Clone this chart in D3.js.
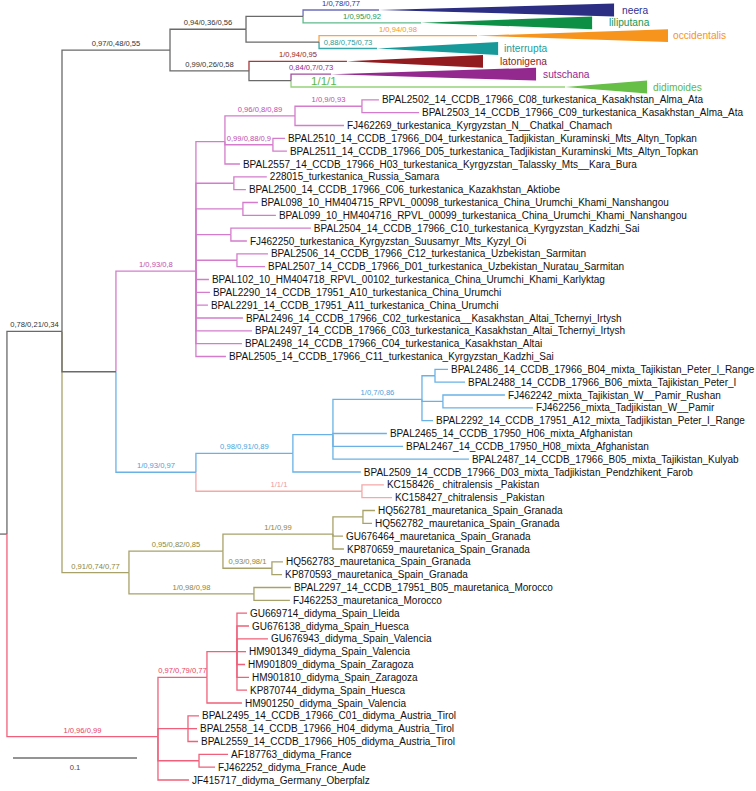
<!DOCTYPE html>
<html><head><meta charset="utf-8">
<script src="https://cdn.jsdelivr.net/npm/d3@7"></script>
<style>
body{margin:0;background:#fff}
svg{display:block}
text{font-family:"Liberation Sans",Arial,Helvetica,sans-serif}
</style>
</head><body>
<svg id="chart" width="756" height="791"></svg>
<script>
// ---------- DATA ----------
// [node, parent, branch length (subst./site), support PP/ML/MP]
const rootEdge = [["root", null, 0.0056, ""]];
const upperEdges = [
  ["A", "root", 0.0444, "0,78/0,21/0,34"],
  ["B", "A", 0.0871, "0,97/0,48/0,55"],
  ["B1", "B", 0.0613, "0,94/0,36/0,56"],
  ["B11", "B1", 0.0460, ""],
  ["neera", "B11", 0.0613, "1/0,78/0,77"],
  ["liliputana", "B11", 0.0952, "1/0,95/0,92"],
  ["B12", "B1", 0.0589, ""],
  ["occidentalis", "B12", 0.1274, "1/0,94/0,98"],
  ["interrupta", "B12", 0.0468, "0,88/0,75/0,73"],
  ["B2", "B", 0.0637, "0,99/0,26/0,58"],
  ["latonigena", "B2", 0.0790, "1/0,94/0,95"],
  ["B21", "B2", 0.0339, ""],
  ["sutschana", "B21", 0.0323, "0,84/0,7/0,73"],
  ["didimoides", "B21", 0.2210, "1/1/1"]
];
const turkestanicaEdges = [
  ["C", "A", 0.0435, ""],
  ["T", "C", 0.0645, "1/0,93/0,8"],
  ["Ta", "T", 0.0234, ""],
  ["Tb", "Ta", 0.0565, "0,96/0,8/0,89"],
  ["Td", "Tb", 0.0540, "1/0,9/0,93"],
  ["BPAL2502_14_CCDB_17966_C08_turkestanica_Kasakhstan_Alma_Ata", "Td", 0.0137, ""],
  ["BPAL2503_14_CCDB_17966_C09_turkestanica_Kasakhstan_Alma_Ata", "Td", 0.0460, ""],
  ["FJ462269_turkestanica_Kyrgyzstan_N__Chatkal_Chamach", "Tb", 0.0395, ""],
  ["Tc", "Ta", 0.0387, "0,99/0,88/0,9"],
  ["BPAL2510_14_CCDB_17966_D04_turkestanica_Tadjikistan_Kuraminski_Mts_Altyn_Topkan", "Tc", 0.0097, ""],
  ["BPAL2511_14_CCDB_17966_D05_turkestanica_Tadjikistan_Kuraminski_Mts_Altyn_Topkan", "Tc", 0.0113, ""],
  ["BPAL2557_14_CCDB_17966_H03_turkestanica_Kyrgyzstan_Talassky_Mts__Kara_Bura", "Ta", 0.0121, ""],
  ["Te", "T", 0.0306, ""],
  ["228015_turkestanica_Russia_Samara", "Te", 0.0266, ""],
  ["BPAL2500_14_CCDB_17966_C06_turkestanica_Kazakhstan_Aktiobe", "Te", 0.0097, ""],
  ["Tf", "T", 0.0379, ""],
  ["BPAL098_10_HM404715_RPVL_00098_turkestanica_China_Urumchi_Khami_Nanshangou", "Tf", 0.0121, ""],
  ["BPAL099_10_HM404716_RPVL_00099_turkestanica_China_Urumchi_Khami_Nanshangou", "Tf", 0.0266, ""],
  ["Tg", "T", 0.0282, ""],
  ["BPAL2504_14_CCDB_17966_C10_turkestanica_Kyrgyzstan_Kadzhi_Sai", "Tg", 0.0645, ""],
  ["FJ462250_turkestanica_Kyrgyzstan_Suusamyr_Mts_Kyzyl_Oi", "Tg", 0.0129, ""],
  ["Th", "T", 0.0331, ""],
  ["BPAL2506_14_CCDB_17966_C12_turkestanica_Uzbekistan_Sarmitan", "Th", 0.0250, ""],
  ["BPAL2507_14_CCDB_17966_D01_turkestanica_Uzbekistan_Nuratau_Sarmitan", "Th", 0.0226, ""],
  ["BPAL102_10_HM404718_RPVL_00102_turkestanica_China_Urumchi_Khami_Karlyktag", "T", 0.0105, ""],
  ["BPAL2290_14_CCDB_17951_A10_turkestanica_China_Urumchi", "T", 0.0113, ""],
  ["BPAL2291_14_CCDB_17951_A11_turkestanica_China_Urumchi", "T", 0.0097, ""],
  ["BPAL2496_14_CCDB_17966_C02_turkestanica__Kasakhstan_Altai_Tchernyi_Irtysh", "T", 0.0379, ""],
  ["BPAL2497_14_CCDB_17966_C03_turkestanica_Kasakhstan_Altai_Tchernyi_Irtysh", "T", 0.0452, ""],
  ["BPAL2498_14_CCDB_17966_C04_turkestanica_Kasakhstan_Altai", "T", 0.0371, ""],
  ["BPAL2505_14_CCDB_17966_C11_turkestanica_Kyrgyzstan_Kadzhi_Sai", "T", 0.0242, ""]
];
const mixtaEdges = [
  ["M", "C", 0.0645, "1/0,93/0,97"],
  ["MX", "M", 0.0782, "0,98/0,91/0,89"],
  ["MX2", "MX", 0.0323, ""],
  ["MX1", "MX2", 0.0718, "1/0,7/0,86"],
  ["Ma", "MX1", 0.0105, ""],
  ["BPAL2486_14_CCDB_17966_B04_mixta_Tajikistan_Peter_I_Range", "Ma", 0.0105, ""],
  ["BPAL2488_14_CCDB_17966_B06_mixta_Tajikistan_Peter_I", "Ma", 0.0242, ""],
  ["Mb", "MX1", 0.0169, ""],
  ["FJ462242_mixta_Tajikistan_W__Pamir_Rushan", "Mb", 0.0500, ""],
  ["FJ462256_mixta_Tadjikistan_W__Pamir", "Mb", 0.0726, ""],
  ["BPAL2292_14_CCDB_17951_A12_mixta_Tadjikistan_Peter_I_Range", "MX1", 0.0089, ""],
  ["BPAL2465_14_CCDB_17950_H06_mixta_Afghanistan", "MX2", 0.0435, ""],
  ["BPAL2467_14_CCDB_17950_H08_mixta_Afghanistan", "MX2", 0.0565, ""],
  ["BPAL2487_14_CCDB_17966_B05_mixta_Tajikistan_Kulyab", "MX2", 0.1097, ""],
  ["BPAL2509_14_CCDB_17966_D03_mixta_Tadjikistan_Pendzhikent_Farob", "MX", 0.0548, ""],
  ["CH", "M", 0.1339, "1/1/1"],
  ["KC158426_ chitralensis _Pakistan", "CH", 0.0177, ""],
  ["KC158427_chitralensis _Pakistan", "CH", 0.0242, ""]
];
const mauretanicaEdges = [
  ["D", "A", 0.0540, "0,91/0,74/0,77"],
  ["D1", "D", 0.0758, "0,95/0,82/0,85"],
  ["D11", "D1", 0.0887, "1/1/0,99"],
  ["D111", "D11", 0.0242, ""],
  ["HQ562781_mauretanica_Spain_Granada", "D111", 0.0097, ""],
  ["HQ562782_mauretanica_Spain_Granada", "D111", 0.0073, ""],
  ["GU676464_mauretanica_Spain_Granada", "D11", 0.0081, ""],
  ["KP870659_mauretanica_Spain_Granada", "D11", 0.0089, ""],
  ["D12", "D1", 0.0395, "0,93/0,98/1"],
  ["HQ562783_mauretanica_Spain_Granada", "D12", 0.0089, ""],
  ["KP870593_mauretanica_Spain_Granada", "D12", 0.0081, ""],
  ["D2", "D", 0.1008, "1/0,98/0,98"],
  ["BPAL2297_14_CCDB_17951_B05_mauretanica_Morocco", "D2", 0.0298, ""],
  ["FJ462253_mauretanica_Morocco", "D2", 0.0290, ""]
];
const didymaEdges = [
  ["DY", "root", 0.1218, "1/0,96/0,99"],
  ["DY1", "DY", 0.0395, "0,97/0,79/0,77"],
  ["DY1a", "DY1", 0.0242, ""],
  ["GU669714_didyma_Spain_Lleida", "DY1a", 0.0081, ""],
  ["GU676138_didyma_Spain_Huesca", "DY1a", 0.0097, ""],
  ["GU676943_didyma_Spain_Valencia", "DY1a", 0.0250, ""],
  ["HM901349_didyma_Spain_Valencia", "DY1a", 0.0073, ""],
  ["HM901809_didyma_Spain_Zaragoza", "DY1a", 0.0065, ""],
  ["HM901810_didyma_Spain_Zaragoza", "DY1a", 0.0097, ""],
  ["KP870744_didyma_Spain_Huesca", "DY1a", 0.0081, ""],
  ["HM901250_didyma_Spain_Valencia", "DY1", 0.0282, ""],
  ["DY2", "DY", 0.0242, ""],
  ["BPAL2495_14_CCDB_17966_C01_didyma_Austria_Tirol", "DY2", 0.0089, ""],
  ["BPAL2558_14_CCDB_17966_H04_didyma_Austria_Tirol", "DY2", 0.0073, ""],
  ["BPAL2559_14_CCDB_17966_H05_didyma_Austria_Tirol", "DY2", 0.0081, ""],
  ["DY3", "DY", 0.0331, ""],
  ["AF187763_didyma_France", "DY3", 0.0234, ""],
  ["FJ462252_didyma_France_Aude", "DY3", 0.0129, ""],
  ["JF415717_didyma_Germany_Oberpfalz", "DY", 0.0250, ""]
];
// collapsed clades: extra depth from clade root to deepest tip
const collapsedClades = ["neera", "liliputana", "occidentalis", "interrupta", "latonigena", "sutschana", "didimoides"];
const collapsedDepths = [0.1895, 0.1379, 0.1540, 0.0976, 0.1097, 0.1653, 0.0661];
const scaleBarValue = 0.1;
const scaleBarLabel = "0.1";

// ---------- STYLE ----------
const groupOf = { root: "grey", DY: "didyma", D: "maur", T: "turk", M: "mixta", CH: "chitr",
  neera: "neera", liliputana: "lili", occidentalis: "occ", interrupta: "inter",
  latonigena: "laton", sutschana: "suts", didimoides: "didi" };
const lineCol = { grey: "#6a6a6a", didyma: "#f0607a", maur: "#a8a26a", turk: "#d47ccb", mixta: "#6ab2e6",
  chitr: "#f5a8a8", neera: "#6d6fba", lili: "#5fb98a", occ: "#f7a54a", inter: "#3aa8a6",
  laton: "#a8383b", suts: "#a24c9e", didi: "#94d27c" };
const textCol = { grey: "#333333", didyma: "#e8415f", maur: "#8c8638", turk: "#bd4dad", mixta: "#48a2dd",
  chitr: "#f09a9a", neera: "#2e3192", lili: "#1a9650", occ: "#f7941d", inter: "#1c9c9a",
  laton: "#951c20", suts: "#93288e", didi: "#5db845" };
const fillCol = { neera: "#2b2e83", lili: "#0d8f45", occ: "#f7941d", inter: "#17999a",
  laton: "#921b1f", suts: "#93288e", didi: "#67bf47" };
const cladeLabelGap = { neera: 8, liliputana: 17, occidentalis: 5, interrupta: 6, latonigena: 17, sutschana: 7, didimoides: 6 };
// where along its branch a support label sits (default: middle)
const supportAnchor = { didimoides: 0.12 };
const supportSize = { didimoides: 11.5 };

// ---------- BUILD ----------
const rows = [...rootEdge, ...upperEdges, ...turkestanicaEdges, ...mixtaEdges, ...mauretanicaEdges, ...didymaEdges]
  .map(r => ({ id: r[0], parent: r[1], len: r[2], support: r[3] }));
const root = d3.stratify().id(d => d.id).parentId(d => d.parent)(rows);
const depthOf = new Map(collapsedClades.map((c, i) => [c, collapsedDepths[i]]));

const leaves = root.leaves();
const x = d3.scaleLinear().domain([0, 0.5]).range([0, 620]);
const y = d3.scaleLinear().domain([0, leaves.length - 1]).range([10, 780]);

root.eachBefore(n => {
  n.dist = (n.parent ? n.parent.dist : 0) + n.data.len;
  n.grp = groupOf[n.id] || (n.parent ? n.parent.grp : "grey");
});
leaves.forEach((l, i) => l.yy = y(i));
root.eachAfter(n => { if (n.children) n.yy = d3.mean(n.children, c => c.yy); });

const svg = d3.select("#chart");
const gLinks = svg.append("g").attr("fill", "none").attr("stroke-width", 1.3);

// root stub
gLinks.append("path").attr("stroke", lineCol.grey)
  .attr("d", `M${x(0)},${root.yy}H${x(root.dist)}`);

const links = root.links().reverse();
gLinks.selectAll("path.br").data(links).join("path").attr("class", "br")
  .attr("stroke", d => lineCol[d.target.grp])
  .attr("d", d => `M${x(d.source.dist)},${d.source.yy}V${d.target.yy}H${x(d.target.dist)}`);

// collapsed triangles
const half = (y(1) - y(0)) / 2;
const coll = leaves.filter(l => depthOf.has(l.id));
svg.append("g").selectAll("path").data(coll).join("path")
  .attr("fill", d => fillCol[d.grp])
  .attr("d", d => {
    const x0 = x(d.dist), x1 = x(d.dist + depthOf.get(d.id));
    return `M${x0},${d.yy}L${x1},${d.yy - half}L${x1},${d.yy + half}Z`;
  });
svg.append("g").selectAll("text").data(coll).join("text")
  .attr("x", d => x(d.dist + depthOf.get(d.id)) + cladeLabelGap[d.id])
  .attr("y", d => d.yy).attr("dy", "0.35em")
  .attr("font-size", 10.2).attr("fill", d => textCol[d.grp])
  .text(d => d.id);

// leaf labels
svg.append("g").selectAll("text").data(leaves.filter(l => !depthOf.has(l.id))).join("text")
  .attr("x", d => x(d.dist) + 3).attr("y", d => d.yy).attr("dy", "0.35em")
  .attr("font-size", 10).attr("fill", "#111")
  .text(d => d.id);

// support labels
const sup = root.descendants().filter(n => n.parent && n.data.support);
svg.append("g").attr("text-anchor", "middle").selectAll("text").data(sup).join("text")
  .attr("x", d => {
    const f = supportAnchor[d.id] ?? 0.5;
    return x(d.parent.dist) + f * (x(d.dist) - x(d.parent.dist));
  })
  .attr("y", d => d.yy - (supportSize[d.id] ? 2.5 : 4))
  .attr("font-size", d => supportSize[d.id] || 7.6)
  .attr("fill", d => textCol[d.grp])
  .text(d => d.data.support);

// scale bar
const sb = svg.append("g").attr("transform", "translate(13,758)");
sb.append("line").attr("x1", 0).attr("x2", x(scaleBarValue) - x(0))
  .attr("stroke", "#707070").attr("stroke-width", 1.5);
sb.append("text").attr("x", (x(scaleBarValue) - x(0)) / 2).attr("y", 12)
  .attr("text-anchor", "middle").attr("font-size", 7.6).attr("fill", "#444").text(scaleBarLabel);
</script>
</body></html>
